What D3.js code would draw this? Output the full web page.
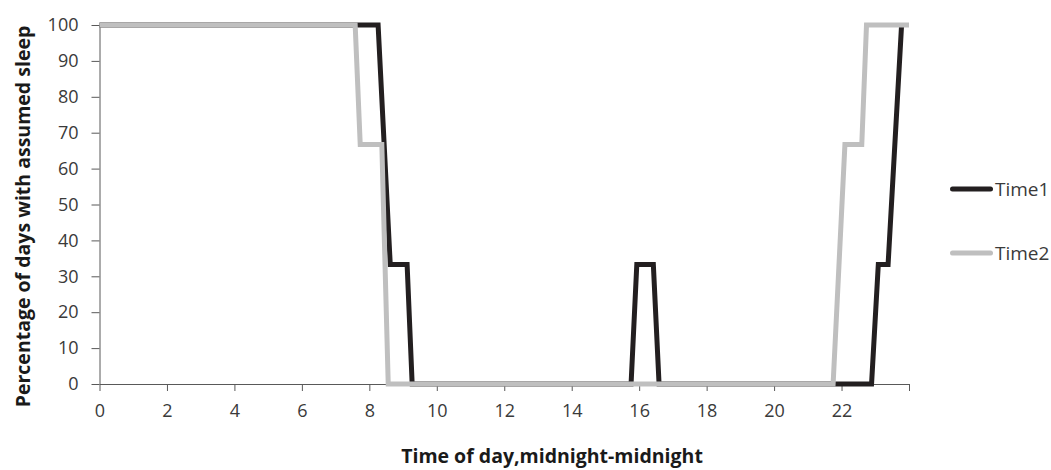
<!DOCTYPE html>
<html>
<head>
<meta charset="utf-8">
<script src="https://cdn.jsdelivr.net/npm/d3@7"></script>
<style>
  html, body { margin: 0; padding: 0; background: #ffffff; }
  svg { display: block; font-family: "Open Sans", "DejaVu Sans", sans-serif; }
  .axis text { font-family: "Open Sans", sans-serif; font-size: 18px; fill: #3a3a3a; }
</style>
</head>
<body>
<svg id="chart" width="1051" height="470"></svg>
<script>
// Hours of the day (0 = midnight) at each change point, with the
// percentage of days on which sleep was assumed at that time.
const time1Hours  = [0, 8.26, 8.62, 9.12, 9.27, 15.76, 15.93, 16.42, 16.59, 22.89, 23.09, 23.38, 23.78];
const time1Values = [100, 100, 33.3, 33.3, 0, 0, 33.3, 33.3, 0, 0, 33.3, 33.3, 100];

const time2Hours  = [0, 7.58, 7.73, 8.37, 8.56, 21.75, 22.1, 22.6, 22.74, 24];
const time2Values = [100, 100, 66.7, 66.7, 0, 0, 66.7, 66.7, 100, 100];

const seriesNames = ["Time1", "Time2"];
const seriesColors = ["#231f20", "#bfbfbf"];

const xTicks = [0, 2, 4, 6, 8, 10, 12, 14, 16, 18, 20, 22, 24];
const yTicks = [0, 10, 20, 30, 40, 50, 60, 70, 80, 90, 100];

const xTitle = "Time of day,midnight-midnight";
const yTitle = "Percentage of days with assumed sleep";

const svg = d3.select("#chart");
const plot = { left: 99.5, right: 909, top: 25, bottom: 384 };

const x = d3.scaleLinear().domain([0, 24]).range([plot.left, plot.right]);
const y = d3.scaleLinear().domain([0, 100]).range([plot.bottom, plot.top]);

const axisColor = "#595959";
const textColor = "#3a3a3a";

// Y axis
const yAxis = svg.append("g")
  .attr("class", "axis")
  .attr("transform", `translate(${plot.left},0)`)
  .call(d3.axisLeft(y).tickValues(yTicks).tickSize(8).tickSizeOuter(0).tickPadding(13));

// X axis (the 24 h tick closes the day but carries no label)
const xAxis = svg.append("g")
  .attr("class", "axis")
  .attr("transform", `translate(0,${plot.bottom})`)
  .call(d3.axisBottom(x).tickValues(xTicks).tickSize(7).tickSizeOuter(0).tickPadding(13)
    .tickFormat(d => d === 24 ? "" : d));

[xAxis, yAxis].forEach(g => {
  g.attr("font-size", null).attr("font-family", null);
  g.select(".domain").attr("stroke", axisColor).attr("stroke-width", 1);
  g.selectAll(".tick line").attr("stroke", axisColor).attr("stroke-width", 1);
});

// Lines (Time2 is drawn last, so it sits on top)
const line = d3.line().x(d => x(d[0])).y(d => y(d[1]));
const series = [
  d3.zip(time1Hours, time1Values),
  d3.zip(time2Hours, time2Values)
];

series.forEach((pts, i) => {
  svg.append("path")
    .datum(pts)
    .attr("fill", "none")
    .attr("stroke", seriesColors[i])
    .attr("stroke-width", 5)
    .attr("stroke-linejoin", "miter")
    .attr("stroke-linecap", "butt")
    .attr("d", line);
});

// Legend
const legendY = [189, 253];
seriesNames.forEach((name, i) => {
  const g = svg.append("g").attr("transform", `translate(0,${legendY[i]})`);
  g.append("line")
    .attr("x1", 952.5).attr("x2", 990.5)
    .attr("y1", 0).attr("y2", 0)
    .attr("stroke", seriesColors[i])
    .attr("stroke-width", 5)
    .attr("stroke-linecap", "round");
  g.append("text")
    .attr("x", 995)
    .attr("y", 0)
    .attr("dy", "0.36em")
    .attr("fill", textColor)
    .style("font-size", "19px")
    .text(name);
});

// Axis titles
svg.append("text")
  .attr("x", 552)
  .attr("y", 463)
  .attr("text-anchor", "middle")
  .attr("fill", "#1a1a1a")
  .style("font-size", "19.5px")
  .style("font-weight", "bold")
  .text(xTitle);

svg.append("text")
  .attr("transform", "translate(30,216.5) rotate(-90)")
  .attr("text-anchor", "middle")
  .attr("fill", "#1a1a1a")
  .style("font-size", "19.5px")
  .style("font-weight", "bold")
  .text(yTitle);
</script>
</body>
</html>
